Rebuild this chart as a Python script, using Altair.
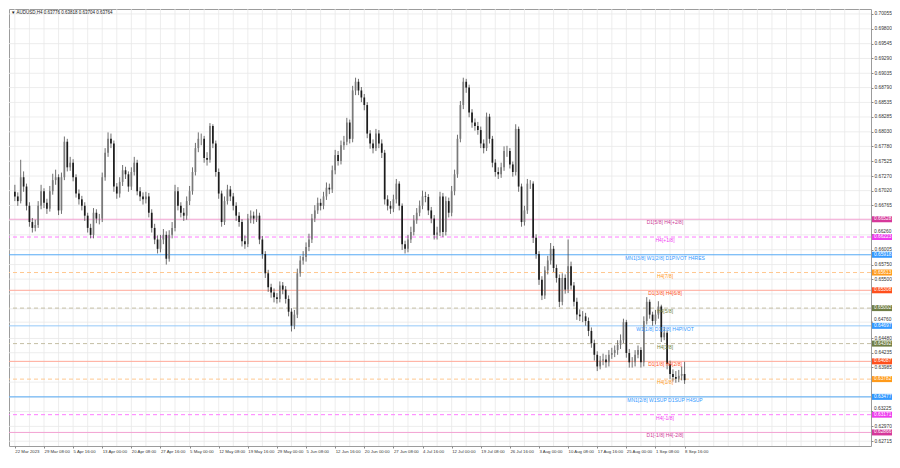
import altair as alt
import pandas as pd

# ---------------- data ----------------
first_open = 0.6700
close = [
    0.6692, 0.6684, 0.6725, 0.6709, 0.6676, 0.6648, 0.6638, 0.6643, 0.6676, 0.6701,
    0.6681, 0.6671, 0.6701, 0.6720, 0.6725, 0.6668, 0.6725, 0.6786, 0.6742, 0.6750,
    0.6725, 0.6697, 0.6687, 0.6676, 0.6659, 0.6638, 0.6626, 0.6664, 0.6654, 0.6654,
    0.6725, 0.6767, 0.6791, 0.6783, 0.6709, 0.6697, 0.6717, 0.6737, 0.6730, 0.6709,
    0.6734, 0.6750, 0.6701, 0.6692, 0.6687, 0.6692, 0.6664, 0.6638, 0.6618, 0.6602,
    0.6618, 0.6626, 0.6585, 0.6626, 0.6638, 0.6701, 0.6676, 0.6664, 0.6659, 0.6684,
    0.6701, 0.6734, 0.6775, 0.6791, 0.6791, 0.6758, 0.6755, 0.6813, 0.6783, 0.6734,
    0.6697, 0.6648, 0.6684, 0.6704, 0.6692, 0.6676, 0.6659, 0.6648, 0.6615, 0.6610,
    0.6654, 0.6659, 0.6654, 0.6659, 0.6618, 0.6593, 0.6560, 0.6536, 0.6527, 0.6519,
    0.6516, 0.6539, 0.6532, 0.6516, 0.6494, 0.6470, 0.6489, 0.6560, 0.6582, 0.6588,
    0.6605, 0.6618, 0.6654, 0.6668, 0.6681, 0.6676, 0.6692, 0.6707, 0.6704, 0.6737,
    0.6763, 0.6753, 0.6780, 0.6786, 0.6819, 0.6791, 0.6874, 0.6889, 0.6874, 0.6862,
    0.6849, 0.6800, 0.6783, 0.6775, 0.6800, 0.6783, 0.6767, 0.6687, 0.6676, 0.6671,
    0.6687, 0.6714, 0.6676, 0.6610, 0.6602, 0.6618, 0.6631, 0.6651, 0.6664, 0.6676,
    0.6692, 0.6691, 0.6668, 0.6654, 0.6626, 0.6630, 0.6692, 0.6631, 0.6684, 0.6664,
    0.6701, 0.6730, 0.6791, 0.6849, 0.6889, 0.6879, 0.6836, 0.6819, 0.6813, 0.6806,
    0.6783, 0.6775, 0.6829, 0.6791, 0.6750, 0.6734, 0.6730, 0.6742, 0.6770, 0.6770,
    0.6747, 0.6734, 0.6808, 0.6709, 0.6648, 0.6668, 0.6714, 0.6714, 0.6621, 0.6593,
    0.6549, 0.6522, 0.6565, 0.6582, 0.6602, 0.6569, 0.6552, 0.6511, 0.6552, 0.6532,
    0.6572, 0.6539, 0.6511, 0.6489, 0.6486, 0.6486, 0.6478, 0.6461, 0.6440, 0.6420,
    0.6400, 0.6410, 0.6412, 0.6407, 0.6420, 0.6423, 0.6428, 0.6437, 0.6445, 0.6476,
    0.6423, 0.6407, 0.6407, 0.6420, 0.6428, 0.6407, 0.6478, 0.6511, 0.6489, 0.6478,
    0.6489, 0.6503, 0.6450, 0.6458, 0.6404, 0.6387, 0.6382, 0.6379, 0.6384, 0.6387,
    0.63764,
]
high = [
    0.6712, 0.6699, 0.6755, 0.6735, 0.6714, 0.6682, 0.6655, 0.6652, 0.6684, 0.6712,
    0.6706, 0.6688, 0.6710, 0.6731, 0.6738, 0.6730, 0.6733, 0.6795, 0.6791, 0.6760,
    0.6756, 0.6730, 0.6704, 0.6693, 0.6682, 0.6664, 0.6645, 0.6672, 0.6670, 0.6662,
    0.6733, 0.6775, 0.6802, 0.6800, 0.6788, 0.6715, 0.6725, 0.6746, 0.6743, 0.6735,
    0.6742, 0.6760, 0.6755, 0.6708, 0.6699, 0.6700, 0.6698, 0.6670, 0.6645, 0.6625,
    0.6626, 0.6636, 0.6632, 0.6634, 0.6648, 0.6712, 0.6708, 0.6682, 0.6672, 0.6692,
    0.6710, 0.6742, 0.6784, 0.6802, 0.6800, 0.6796, 0.6768, 0.6818, 0.6816, 0.6788,
    0.6740, 0.6702, 0.6692, 0.6712, 0.6710, 0.6698, 0.6682, 0.6665, 0.6653, 0.6625,
    0.6662, 0.6668, 0.6666, 0.6670, 0.6664, 0.6624, 0.6598, 0.6566, 0.6542, 0.6534,
    0.6526, 0.6546, 0.6545, 0.6538, 0.6522, 0.6500, 0.6497, 0.6568, 0.6590, 0.6598,
    0.6613, 0.6628, 0.6662, 0.6677, 0.6690, 0.6688, 0.6700, 0.6716, 0.6714, 0.6745,
    0.6772, 0.6770, 0.6788, 0.6796, 0.6827, 0.6824, 0.6882, 0.6896, 0.6894, 0.6880,
    0.6868, 0.6854, 0.6806, 0.6790, 0.6808, 0.6806, 0.6790, 0.6772, 0.6694, 0.6684,
    0.6695, 0.6722, 0.6718, 0.6680, 0.6616, 0.6626, 0.6640, 0.6660, 0.6672, 0.6685,
    0.6702, 0.6700, 0.6696, 0.6674, 0.6660, 0.6640, 0.6700, 0.6698, 0.6692, 0.6690,
    0.6710, 0.6738, 0.6798, 0.6856, 0.6896, 0.6894, 0.6884, 0.6842, 0.6826, 0.6820,
    0.6812, 0.6790, 0.6836, 0.6834, 0.6796, 0.6756, 0.6742, 0.6750, 0.6778, 0.6779,
    0.6775, 0.6752, 0.6816, 0.6812, 0.6714, 0.6676, 0.6722, 0.6720, 0.6718, 0.6627,
    0.6598, 0.6555, 0.6572, 0.6590, 0.6612, 0.6607, 0.6575, 0.6558, 0.6560, 0.6558,
    0.6618, 0.6580, 0.6545, 0.6518, 0.6498, 0.6495, 0.6492, 0.6484, 0.6467, 0.6446,
    0.6426, 0.6418, 0.6422, 0.6420, 0.6428, 0.6432, 0.6436, 0.6445, 0.6455, 0.6482,
    0.6480, 0.6430, 0.6416, 0.6428, 0.6436, 0.6433, 0.6486, 0.6519, 0.6515, 0.6494,
    0.6497, 0.6512, 0.6506, 0.6468, 0.6462, 0.6410, 0.6395, 0.6392, 0.6394, 0.6400,
    0.6408,
]
low = [
    0.6684, 0.6676, 0.6680, 0.6700, 0.6668, 0.6640, 0.6630, 0.6632, 0.6638, 0.6670,
    0.6672, 0.6662, 0.6666, 0.6695, 0.6712, 0.6660, 0.6662, 0.6720, 0.6735, 0.6736,
    0.6718, 0.6690, 0.6678, 0.6668, 0.6650, 0.6630, 0.6620, 0.6620, 0.6646, 0.6644,
    0.6648, 0.6719, 0.6760, 0.6775, 0.6700, 0.6688, 0.6690, 0.6710, 0.6722, 0.6700,
    0.6703, 0.6728, 0.6694, 0.6684, 0.6678, 0.6680, 0.6656, 0.6630, 0.6610, 0.6594,
    0.6596, 0.6610, 0.6575, 0.6580, 0.6620, 0.6632, 0.6668, 0.6656, 0.6650, 0.6652,
    0.6677, 0.6695, 0.6728, 0.6768, 0.6780, 0.6750, 0.6745, 0.6750, 0.6775, 0.6726,
    0.6688, 0.6640, 0.6643, 0.6678, 0.6684, 0.6668, 0.6650, 0.6640, 0.6606, 0.6602,
    0.6605, 0.6646, 0.6645, 0.6648, 0.6610, 0.6585, 0.6552, 0.6528, 0.6518, 0.6510,
    0.6508, 0.6510, 0.6524, 0.6508, 0.6486, 0.6460, 0.6464, 0.6483, 0.6554, 0.6575,
    0.6580, 0.6598, 0.6612, 0.6648, 0.6662, 0.6668, 0.6670, 0.6686, 0.6696, 0.6698,
    0.6730, 0.6745, 0.6747, 0.6772, 0.6780, 0.6783, 0.6785, 0.6866, 0.6866, 0.6854,
    0.6840, 0.6792, 0.6774, 0.6766, 0.6770, 0.6775, 0.6758, 0.6678, 0.6668, 0.6662,
    0.6665, 0.6680, 0.6668, 0.6600, 0.6594, 0.6596, 0.6612, 0.6625, 0.6645, 0.6658,
    0.6670, 0.6682, 0.6660, 0.6646, 0.6618, 0.6618, 0.6624, 0.6622, 0.6625, 0.6656,
    0.6658, 0.6694, 0.6724, 0.6785, 0.6842, 0.6870, 0.6828, 0.6810, 0.6805, 0.6798,
    0.6775, 0.6766, 0.6770, 0.6783, 0.6742, 0.6726, 0.6722, 0.6724, 0.6736, 0.6760,
    0.6740, 0.6726, 0.6728, 0.6700, 0.6640, 0.6642, 0.6662, 0.6705, 0.6612, 0.6585,
    0.6540, 0.6514, 0.6516, 0.6558, 0.6575, 0.6562, 0.6544, 0.6502, 0.6505, 0.6525,
    0.6526, 0.6532, 0.6503, 0.6480, 0.6478, 0.6476, 0.6470, 0.6452, 0.6432, 0.6410,
    0.6392, 0.6395, 0.6402, 0.6398, 0.6400, 0.6413, 0.6416, 0.6420, 0.6430, 0.6440,
    0.6415, 0.6398, 0.6398, 0.6400, 0.6414, 0.6398, 0.6400, 0.6472, 0.6482, 0.6470,
    0.6472, 0.6482, 0.6442, 0.6445, 0.6395, 0.6378, 0.6374, 0.6372, 0.6373, 0.6376,
    0.6370,
]

date_labels = [
    "22 Mar 2023", "29 Mar 08:00", "5 Apr 16:00", "13 Apr 00:00", "20 Apr 08:00",
    "27 Apr 16:00", "5 May 00:00", "12 May 08:00", "19 May 16:00", "29 May 00:00",
    "5 Jun 08:00", "12 Jun 16:00", "20 Jun 00:00", "27 Jun 08:00", "4 Jul 16:00",
    "12 Jul 00:00", "19 Jul 08:00", "26 Jul 16:00", "3 Aug 00:00", "10 Aug 08:00",
    "17 Aug 16:00", "25 Aug 00:00", "1 Sep 08:00", "8 Sep 16:00",
]

price_labels = [
    0.70055, 0.69800, 0.69545, 0.69290, 0.69035, 0.68790, 0.68535, 0.68285,
    0.68030, 0.67780, 0.67525, 0.67270, 0.67020, 0.66765, 0.66005,
    0.65750, 0.65500, 0.64480, 0.64235, 0.63985, 0.62970, 0.62715,
]
# axis labels that sit right above a level box in the reference
price_labels_tight = [0.66260, 0.64760, 0.63225]
price_grid_hidden = [0.66510, 0.65245, 0.64990, 0.63730, 0.63475]

level_price = [0.66528, 0.66223, 0.65918, 0.65613, 0.65308, 0.65002, 0.64697,
               0.64392, 0.64087, 0.63782, 0.63477, 0.63171, 0.62866]
level_text = ["D1[5/8] H4[+2/8]", "H4[+1/8]", "MN1[3/8] W1[2/8] D1PIVOT H4RES",
              "H4[7/8]", "D1[3/8] H4[6/8]", "H4[5/8]", "W1[1/8] D1[2/8] H4PIVOT",
              "H4[3/8]", "D1[1/8] H4[2/8]", "H4[1/8]", "MN1[2/8] W1SUP D1SUP H4SUP",
              "H4[-1/8]", "D1[-1/8] H4[-2/8]"]
level_dashed = [False, True, False, True, False, True, False, True, False, True,
                False, True, False]
level_line_color = ["#f2a2d2", "#ff7cff", "#55aaf5", "#ffc890", "#ffa898", "#c4bea4",
                    "#94c8f8", "#c4bea4", "#ffa898", "#ffc890", "#55aaf5", "#ff7cff",
                    "#f2a2d2"]
level_text_color = ["#cc3a97", "#f23cf2", "#3399ff", "#ff9a1f", "#ff5022", "#72823c",
                    "#3399ff", "#72823c", "#ff5022", "#ff9a1f", "#3399ff", "#f23cf2",
                    "#cc3a97"]
level_box_color = ["#d6389a", "#ee3cee", "#3399ff", "#ff9a1a", "#ff4f1c", "#6f7d45",
                   "#3399ff", "#6f7d45", "#ff4f1c", "#ff9a1a", "#3399ff", "#ee3cee",
                   "#d6389a"]

title_text = "AUDUSD,H4  0.63776 0.63818 0.63704 0.63764"

# ---------------- build tables ----------------
n = len(close)
opens = [first_open] + close[:-1]
bars = pd.DataFrame({"i": list(range(n)), "open": opens, "close": close,
                     "high": high, "low": low})
bars["high"] = bars[["high", "open", "close"]].max(axis=1)
bars["low"] = bars[["low", "open", "close"]].min(axis=1)
bars["col"] = ["#7a7a7a" if c >= o else "#1c1c1c" for o, c in zip(opens, close)]

levels = pd.DataFrame({"price": level_price, "text": level_text, "dashed": level_dashed,
                       "lc": level_line_color, "tc": level_text_color,
                       "bc": level_box_color})
levels["plabel"] = [f"{p:.5f}" for p in level_price]

tight = pd.DataFrame({"p": price_labels_tight})
tight["lab"] = [f"{p:.5f}" for p in price_labels_tight]

W = 862
H = 437
X_MAX = 292.3
xscale = alt.Scale(domain=[-0.3, X_MAX], nice=False, zero=False)
yscale = alt.Scale(domain=[0.62633, 0.7014], nice=False, zero=False)

FONT = "Liberation Sans"
AX_FS = 4.8
label_js = "[" + ",".join("'" + d + "'" for d in date_labels) + "]"
tick_idx = [10 * k for k in range(len(date_labels))]

xaxis = alt.Axis(values=tick_idx, labelExpr=f"{label_js}[round(datum.value/10)]",
                 labelAlign="left", labelBaseline="top", labelPadding=1, tickSize=2,
                 labelFontSize=4.3, labelFont=FONT, labelColor="#333333",
                 tickColor="#8a8a8a", domain=False, grid=False, title=None,
                 labelOverlap=False, labelBound=False, labelFlush=False)
yaxis = alt.Axis(orient="right", values=price_labels, format=".5f", labelPadding=1,
                 tickSize=2, labelFontSize=AX_FS, labelFont=FONT, labelColor="#333333",
                 labelAlign="left", tickColor="#8a8a8a", domain=False, grid=False,
                 title=None, labelOverlap=False, labelBound=False, labelFlush=False)


def X(f):
    return alt.X(f, scale=xscale, axis=xaxis)


def Y(f):
    return alt.Y(f, scale=yscale, axis=yaxis)


# grid
vgrid_df = pd.DataFrame({"g": [v / 2 for v in range(0, int(X_MAX * 2) + 1, 10)]})
vgrid = alt.Chart(vgrid_df).mark_rule(color="#e8e8e8", strokeWidth=0.8).encode(
    x=X("g:Q"))
hgrid_df = pd.DataFrame({"p": price_labels + price_labels_tight + price_grid_hidden})
hgrid = alt.Chart(hgrid_df).mark_rule(color="#e8e8e8", strokeWidth=0.8).encode(
    y=Y("p:Q"))

# levels
solid = alt.Chart(levels).transform_filter("!datum.dashed").mark_rule(
    strokeWidth=1).encode(y=Y("price:Q"), color=alt.Color("lc:N", scale=None))
dashed = alt.Chart(levels).transform_filter("datum.dashed").mark_rule(
    strokeWidth=1, strokeDash=[4, 3]).encode(y=Y("price:Q"),
                                             color=alt.Color("lc:N", scale=None))
ltext = alt.Chart(levels).mark_text(align="center", baseline="top", dy=1,
                                    fontSize=5.0, font=FONT).encode(
    x=alt.value(656), y=Y("price:Q"), text="text:N",
    color=alt.Color("tc:N", scale=None))
boxes = alt.Chart(levels).mark_rect(yOffset=-3, y2Offset=3, clip=False).encode(
    x=alt.value(W + 1), x2=alt.value(W + 21), y=Y("price:Q"),
    y2="price:Q", color=alt.Color("bc:N", scale=None))
btext = alt.Chart(levels).mark_text(align="left", baseline="middle", fontSize=AX_FS,
                                    font=FONT, color="white", clip=False).encode(
    x=alt.value(W + 3), y=Y("price:Q"), text="plabel:N")

# axis labels squeezed just above a box
tticks = alt.Chart(tight).mark_rule(color="#8a8a8a", clip=False).encode(
    x=alt.value(W), x2=alt.value(W + 2), y=Y("p:Q"))
ttext = alt.Chart(tight).mark_text(align="left", baseline="bottom", fontSize=AX_FS,
                                   font=FONT, color="#333333", dy=-0.4,
                                   clip=False).encode(
    x=alt.value(W + 3), y=Y("p:Q"), text="lab:N")

# candles
wicks = alt.Chart(bars).mark_rule(strokeWidth=0.8, color="#4a4a4a").encode(
    x=X("i:Q"), y=Y("low:Q"), y2="high:Q")
bodies = alt.Chart(bars).mark_bar(size=1.7).encode(
    x=X("i:Q"), y=Y("open:Q"), y2="close:Q",
    color=alt.Color("col:N", scale=None))

title = alt.Chart(pd.DataFrame({"t": ["\u25BC " + title_text]})).mark_text(
    align="left", baseline="middle", fontSize=4.5, font=FONT, color="#222222").encode(
    x=alt.value(2), y=alt.value(4), text="t:N")

chart = alt.layer(vgrid, hgrid, solid, dashed, wicks, bodies, ltext, boxes, btext,
                  tticks, ttext, title).properties(
    width=W, height=H, padding={"left": 0, "top": 0, "right": 0, "bottom": 0},
    background="white").configure_view(stroke="#9c9c9c", strokeWidth=1
    ).configure_axis(labelOverlap=False, labelBound=False, labelFlush=False)

chart.save("out.html", embed_options={"renderer": "svg", "actions": False})
